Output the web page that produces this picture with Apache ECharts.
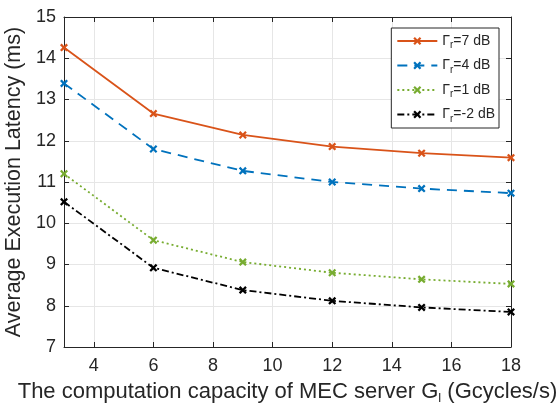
<!DOCTYPE html>
<html>
<head>
<meta charset="utf-8">
<script src="https://cdn.jsdelivr.net/npm/echarts@6/dist/echarts.min.js"></script>
<style>
html, body { margin: 0; padding: 0; background: #fff; }
#main { width: 559px; height: 410px; }
</style>
</head>
<body>
<div id="main"></div>
<script>
var xValues = [3, 6, 9, 12, 15, 18];
var xTicks = [4, 6, 8, 10, 12, 14, 16, 18];
var seriesNames = ['7 dB', '4 dB', '1 dB', '-2 dB'];
var lat7 = [14.26, 12.66, 12.14, 11.86, 11.70, 11.59];
var lat4 = [13.39, 11.80, 11.27, 11.00, 10.84, 10.73];
var lat1 = [11.20, 9.59, 9.06, 8.80, 8.64, 8.53];
var latM2 = [10.52, 8.92, 8.38, 8.12, 7.96, 7.85];

var FONT = 'Liberation Sans';
var cross = 'path://M0,2L2,0L5,3L8,0L10,2L7,5L10,8L8,10L5,7L2,10L0,8L3,5Z';

function pairs(ys) {
    var out = [];
    for (var i = 0; i < xValues.length; i++) {
        out.push([xValues[i], ys[i]]);
    }
    return out;
}

function makeSeries(name, ys, color, type) {
    return {
        name: name,
        type: 'line',
        data: pairs(ys),
        symbol: cross,
        symbolSize: 8,
        showSymbol: true,
        itemStyle: { color: color },
        lineStyle: { color: color, width: 1.8, type: type },
        emphasis: { disabled: true },
        animation: false
    };
}

var chart = echarts.init(document.getElementById('main'), null, { width: 559, height: 410 });

var option = {
    backgroundColor: '#fff',
    grid: { left: 64, right: 48, top: 17, bottom: 63, containLabel: false, outerBoundsMode: 'none' },
    legend: {
        right: 60,
        top: 28,
        orient: 'vertical',
        itemWidth: 40,
        itemHeight: 10,
        itemGap: 8,
        padding: [6, 4, 4, 5],
        borderColor: '#262626',
        borderWidth: 1,
        backgroundColor: '#fff',
        formatter: function (name) {
            return '{g|\u0393}{s|r}{t|=' + name + '}';
        },
        textStyle: {
            fontFamily: FONT,
            color: '#262626',
            rich: {
                g: { fontFamily: FONT, fontSize: 14, color: '#262626' },
                s: { fontFamily: FONT, fontSize: 10, color: '#262626', padding: [9, 0, 0, 0] },
                t: { fontFamily: FONT, fontSize: 14, color: '#262626' }
            }
        },
        data: seriesNames
    },
    xAxis: [{
        type: 'value',
        min: 3,
        max: 18,
        name: '{a|The computation capacity of MEC server G}{s|l}{a| (Gcycles/s)}',
        nameLocation: 'middle',
        nameGap: 32,
        nameTextStyle: {
            rich: {
                a: { fontFamily: FONT, fontSize: 22, color: '#262626' },
                s: { fontFamily: FONT, fontSize: 13, color: '#262626', padding: [13, 0, 0, 0] }
            }
        },
        axisLine: { lineStyle: { color: '#262626', width: 1 } },
        axisTick: { inside: true, length: 5, customValues: xTicks, lineStyle: { color: '#262626' } },
        axisLabel: { customValues: xTicks, fontFamily: FONT, fontSize: 18, color: '#262626', margin: 10 },
        splitLine: { show: true, lineStyle: { color: '#e6e6e6', width: 1 } }
    }, {
        type: 'value',
        min: 3,
        max: 18,
        position: 'top',
        axisLine: { show: true, lineStyle: { color: '#262626', width: 1 } },
        axisTick: { inside: true, length: 5, customValues: xTicks, lineStyle: { color: '#262626' } },
        axisLabel: { show: false },
        splitLine: { show: false }
    }],
    yAxis: [{
        type: 'value',
        min: 7,
        max: 15,
        interval: 1,
        name: 'Average Execution Latency (ms)',
        nameLocation: 'middle',
        nameGap: 34,
        nameTextStyle: { fontFamily: FONT, fontSize: 21.5, color: '#262626' },
        axisLine: { show: true, lineStyle: { color: '#262626', width: 1 } },
        axisTick: { inside: true, length: 5, lineStyle: { color: '#262626' } },
        axisLabel: { fontFamily: FONT, fontSize: 18, color: '#262626', margin: 8 },
        splitLine: { show: true, lineStyle: { color: '#e6e6e6', width: 1 } }
    }, {
        type: 'value',
        min: 7,
        max: 15,
        interval: 1,
        position: 'right',
        axisLine: { show: true, lineStyle: { color: '#262626', width: 1 } },
        axisTick: { inside: true, length: 5, lineStyle: { color: '#262626' } },
        axisLabel: { show: false },
        splitLine: { show: false }
    }],
    series: [
        makeSeries(seriesNames[0], lat7, '#D95319', 'solid'),
        makeSeries(seriesNames[1], lat4, '#0072BD', [10, 7]),
        makeSeries(seriesNames[2], lat1, '#77AC30', [2, 3]),
        makeSeries(seriesNames[3], latM2, '#000000', [7, 3, 2, 3])
    ]
};

chart.setOption(option);
</script>
</body>
</html>
